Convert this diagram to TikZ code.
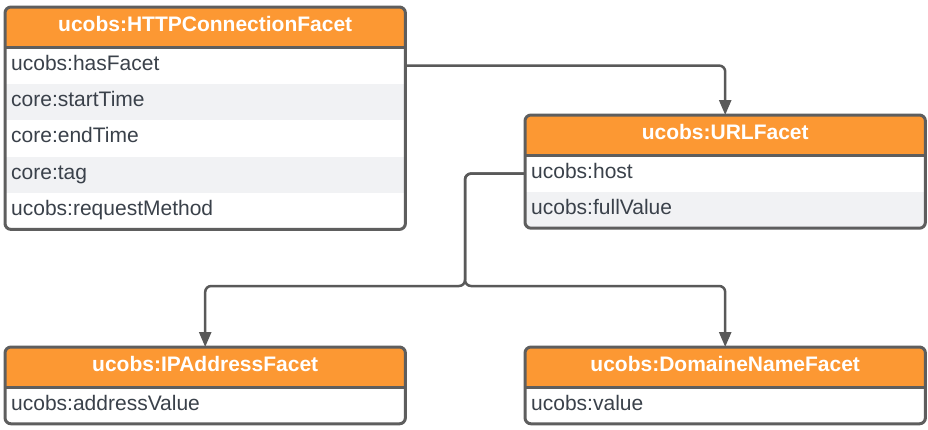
\documentclass[tikz,border=0pt]{standalone}
\usepackage{fontspec}
\setmainfont{Liberation Sans}
\usetikzlibrary{arrows.meta}
\pgfdeclarelayer{bg}
\pgfsetlayers{bg,main}
\definecolor{hdrorange}{RGB}{252,152,51}
\definecolor{bordergray}{RGB}{94,94,94}
\definecolor{rowgray}{RGB}{241,242,244}
\definecolor{txtgray}{RGB}{58,65,74}
\definecolor{conngray}{RGB}{89,89,89}
\tikzset{
 hdr/.style={anchor=north west, minimum width=400pt, minimum height=40pt, inner sep=0pt, text height=15pt, text depth=6pt, text=white, font=\fontsize{21}{25}\selectfont\bfseries},
 row/.style={anchor=north west, minimum height=36pt, text width=388pt, inner xsep=6pt, inner ysep=0pt, text height=15pt, text depth=6pt, align=left, text=txtgray, font=\fontsize{21}{25}\selectfont},
 frame/.style={draw=bordergray, line width=3pt, rounded corners=6pt},
 sep/.style={draw=bordergray, line width=3pt},
 conn/.style={draw=conngray, line width=2.5pt, rounded corners=6pt},
 tip/.style={-{Triangle[length=15pt,width=12pt]}},
}
\begin{document}
\begin{tikzpicture}[x=1pt,y=1pt]
\useasboundingbox (0,0) rectangle (928,-429);
% Box A
\node[hdr] (A) at (5,-7) {ucobs:HTTPConnectionFacet};
\node[row] (A1) at (A.south west) {ucobs:hasFacet};
\node[row] (A2) at (A1.south west) {core:startTime};
\node[row] (A3) at (A2.south west) {core:endTime};
\node[row] (A4) at (A3.south west) {core:tag};
\node[row] (A5) at (A4.south west) {ucobs:requestMethod};
% Box B
\node[hdr] (B) at (525,-115) {ucobs:URLFacet};
\node[row] (B1) at (B.south west) {ucobs:host};
\node[row] (B2) at (B1.south west) {ucobs:fullValue};
% Box C
\node[hdr] (C) at (5,-347) {ucobs:IPAddressFacet};
\node[row] (C1) at (C.south west) {ucobs:addressValue};
% Box D
\node[hdr] (D) at (525,-347) {ucobs:DomaineNameFacet};
\node[row] (D1) at (D.south west) {ucobs:value};

\begin{pgfonlayer}{bg}
 \fill[white] (0,0) rectangle (928,-429);
 \begin{scope}
  \clip[rounded corners=6pt] (A.north west) rectangle (A5.south east);
  \fill[hdrorange] (A.north west) rectangle (A.south east);
  \fill[rowgray] (A2.north west) rectangle (A2.south east);
  \fill[rowgray] (A4.north west) rectangle (A4.south east);
 \end{scope}
 \begin{scope}
  \clip[rounded corners=6pt] (B.north west) rectangle (B2.south east);
  \fill[hdrorange] (B.north west) rectangle (B.south east);
  \fill[rowgray] (B2.north west) rectangle (B2.south east);
 \end{scope}
 \begin{scope}
  \clip[rounded corners=6pt] (C.north west) rectangle (C1.south east);
  \fill[hdrorange] (C.north west) rectangle (C.south east);
 \end{scope}
 \begin{scope}
  \clip[rounded corners=6pt] (D.north west) rectangle (D1.south east);
  \fill[hdrorange] (D.north west) rectangle (D.south east);
 \end{scope}
\end{pgfonlayer}

% connectors
\coordinate (J) at (465,-286);
\draw[conn, tip] (A1.east) -| (B.north);
\draw[conn, tip] (B1.west) -| (J) -| (C.north);
\draw[conn, tip] (B1.west) -| (J) -| (D.north);

% frames
\draw[sep] (A.south west) -- (A.south east);
\draw[frame] (A.north west) rectangle (A5.south east);
\draw[sep] (B.south west) -- (B.south east);
\draw[frame] (B.north west) rectangle (B2.south east);
\draw[sep] (C.south west) -- (C.south east);
\draw[frame] (C.north west) rectangle (C1.south east);
\draw[sep] (D.south west) -- (D.south east);
\draw[frame] (D.north west) rectangle (D1.south east);
\end{tikzpicture}
\end{document}
